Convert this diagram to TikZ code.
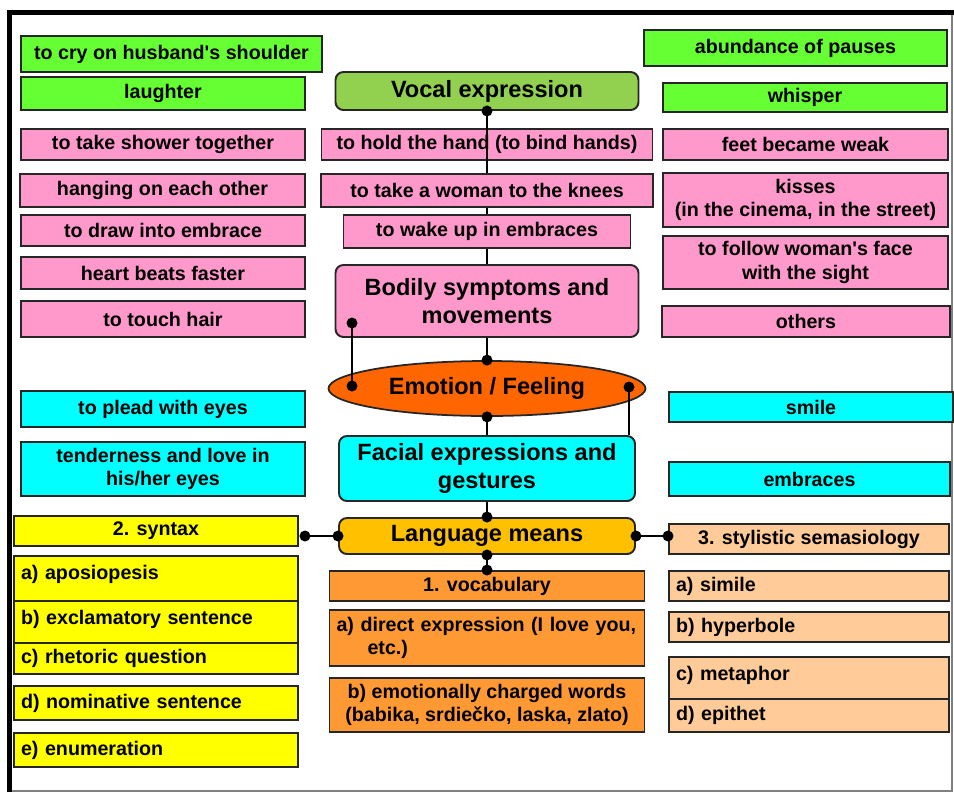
\documentclass[tikz,border=0pt]{standalone}
\usepackage{fontspec}
\setmainfont{Liberation Sans}
\usetikzlibrary{shapes.geometric}

\definecolor{limegr}{RGB}{102,255,51}
\definecolor{olivegr}{RGB}{146,208,80}
\definecolor{rosepk}{RGB}{255,153,204}
\definecolor{emoorange}{RGB}{255,102,0}
\definecolor{aqua}{RGB}{0,255,255}
\definecolor{lemon}{RGB}{255,255,0}
\definecolor{goldbox}{RGB}{255,192,0}
\definecolor{tangerine}{RGB}{255,153,51}
\definecolor{peach}{RGB}{255,204,153}

\newcommand{\itemfont}{\fontsize{11.2}{13.2}\selectfont\bfseries}
\newcommand{\headfont}{\fontsize{13.4}{15.5}\selectfont\bfseries}

\begin{document}
\begin{tikzpicture}[
  box/.style={draw=black!85,line width=1.1pt,inner sep=0pt,font=\itemfont,align=center},
  head/.style={box,rounded corners=4.5pt,font=\headfont},
  greenbox/.style={box,fill=limegr},
  pinkbox/.style={box,fill=rosepk},
  cyanbox/.style={box,fill=aqua},
  orangebox/.style={box,fill=tangerine,minimum width=6.30cm},
  yellowitem/.style={box,fill=lemon,minimum width=5.68cm,text width=5.40cm,align=left},
  peachitem/.style={box,fill=peach,minimum width=5.60cm,text width=5.32cm,align=left},
  conn/.style={line width=1pt}]
\useasboundingbox (0,0) rectangle (19.08,-15.84);
\draw[gray,line width=0.6pt] (0.19,-15.82) -- (19.04,-15.82) -- (19.04,-0.25);
\draw[line width=3.4pt] (0.19,-15.84) -- (0.19,-0.25) -- (19.08,-0.25);

\node[greenbox,minimum width=6.02cm,minimum height=0.72cm] (cry) at (3.43,-1.08) {to cry on husband\textquotesingle s shoulder};
\node[greenbox,minimum width=5.68cm,minimum height=0.66cm] (laughter) at (3.26,-1.87) {laughter};
\node[head,fill=olivegr,minimum width=6.06cm,minimum height=0.76cm] (vocal) at (9.74,-1.82) {Vocal expression};
\node[greenbox,minimum width=6.06cm,minimum height=0.72cm] (pauses) at (15.91,-0.96) {abundance of pauses};
\node[greenbox,minimum width=5.68cm,minimum height=0.58cm] (whisper) at (16.10,-1.95) {whisper};

\node[pinkbox,minimum width=5.68cm,minimum height=0.62cm] (shower) at (3.26,-2.89) {to take shower together};
\node[pinkbox,minimum width=5.70cm,minimum height=0.66cm] (hanging) at (3.25,-3.81) {hanging on each other};
\node[pinkbox,minimum width=5.68cm,minimum height=0.62cm] (drawin) at (3.26,-4.61) {to draw into embrace};
\node[pinkbox,minimum width=5.68cm,minimum height=0.64cm] (heart) at (3.26,-5.46) {heart beats faster};
\node[pinkbox,minimum width=5.68cm,minimum height=0.72cm] (hair) at (3.26,-6.38) {to touch hair};
\node[pinkbox,minimum width=6.62cm,minimum height=0.62cm] (hold) at (9.74,-2.89) {to hold the hand (to bind hands)};
\node[pinkbox,minimum width=6.64cm,minimum height=0.66cm] (woman) at (9.74,-3.81) {to take a woman to the knees};
\node[pinkbox,minimum width=5.74cm,minimum height=0.66cm] (wake) at (9.74,-4.63) {to wake up in embraces};
\node[head,fill=rosepk,minimum width=6.06cm,minimum height=1.44cm] (bodily) at (9.74,-6.02) {Bodily symptoms and\\movements};
\node[pinkbox,minimum width=5.70cm,minimum height=0.62cm] (feet) at (16.11,-2.89) {feet became weak};
\node[pinkbox,minimum width=5.70cm,minimum height=1.08cm] (kisses) at (16.11,-4.00) {kisses\\(in the cinema, in the street)};
\node[pinkbox,minimum width=5.70cm,minimum height=1.06cm] (follow) at (16.11,-5.25) {to follow woman\textquotesingle s face\\with the sight};
\node[pinkbox,minimum width=5.76cm,minimum height=0.62cm] (others) at (16.12,-6.43) {others};

\node[ellipse,draw=black!85,line width=1pt,fill=emoorange,inner sep=0pt,font=\headfont,minimum width=6.34cm,minimum height=1.10cm] (emotion) at (9.74,-7.77) {Emotion / Feeling};

\node[cyanbox,minimum width=5.68cm,minimum height=0.72cm] (plead) at (3.26,-8.18) {to plead with eyes};
\node[cyanbox,minimum width=5.68cm,minimum height=1.08cm] (tender) at (3.26,-9.38) {tenderness and love in\\his/her eyes};
\node[head,fill=aqua,minimum width=5.92cm,minimum height=1.30cm] (facial) at (9.74,-9.37) {Facial expressions and\\gestures};
\node[cyanbox,minimum width=5.68cm,minimum height=0.60cm] (smile) at (16.22,-8.14) {smile};
\node[cyanbox,minimum width=5.62cm,minimum height=0.68cm] (embraces) at (16.19,-9.58) {embraces};

\node[head,fill=goldbox,minimum width=5.92cm,minimum height=0.72cm] (language) at (9.74,-10.72) {Language means};
\node[box,fill=lemon,minimum width=5.68cm,minimum height=0.60cm] (syntax) at (3.12,-10.62) {2. syntax};
\node[yellowitem,minimum height=0.90cm,text height=0.46cm,text depth=0.44cm] (apos) at (3.12,-11.57) {a) aposiopesis};
\node[yellowitem,minimum height=0.84cm,text height=0.46cm,text depth=0.38cm] (excl) at (3.12,-12.44) {b) exclamatory sentence};
\node[yellowitem,minimum height=0.62cm] (rhet) at (3.12,-13.17) {c) rhetoric question};
\node[yellowitem,minimum height=0.68cm] (nomin) at (3.12,-14.06) {d) nominative sentence};
\node[yellowitem,minimum height=0.68cm] (enum) at (3.12,-15.00) {e) enumeration};

\node[orangebox,minimum height=0.60cm] (vocab) at (9.74,-11.72) {1. vocabulary};
\node[orangebox,minimum height=1.12cm,text width=6.02cm,align=left] (direct) at (9.74,-12.76) {a) direct expression (I love you,\\\hspace*{0.62cm}etc.)};
\node[orangebox,minimum height=1.08cm] (charged) at (9.74,-14.10) {b) emotionally charged words\\(babika, srdiečko, laska, zlato)};

\node[box,fill=peach,minimum width=5.60cm,minimum height=0.60cm] (stylistic) at (16.18,-10.78) {3. stylistic semasiology};
\node[peachitem,minimum height=0.60cm] (simile) at (16.18,-11.72) {a) simile};
\node[peachitem,minimum height=0.60cm] (hyper) at (16.18,-12.54) {b) hyperbole};
\node[peachitem,minimum height=0.84cm,text height=0.46cm,text depth=0.38cm] (metaphor) at (16.18,-13.56) {c) metaphor};
\node[peachitem,minimum height=0.66cm] (epithet) at (16.18,-14.31) {d) epithet};

\coordinate (bodydot) at (7.04,-6.46);
\coordinate (emoleft) at (7.04,-7.72);
\coordinate (emoright) at (12.58,-7.74);
\coordinate (synjoin) at ([xshift=0.12cm]syntax.east |- language.west);
\coordinate (stylejoin) at (language.east -| stylistic.west);

\draw[conn] (vocal.south) -- (hold.south);
\draw[conn] (hold.south) -- (woman.north);
\draw[conn] (woman.south) -- (wake.north);
\draw[conn] (wake.south) -- (bodily.north);
\draw[conn] (bodily.south) -- (emotion.north);
\draw[conn] (emotion.south) -- (facial.north);
\draw[conn] (facial.south) -- (language.north);
\draw[conn] (language.south) -- (vocab.north);
\draw[conn] (language.west) -- (synjoin);
\draw[conn] (language.east) -- (stylejoin);
\draw[conn] (bodydot) -- (emoleft);
\draw[conn] (emoright) -- (emoright |- facial.north);

\foreach \p in {vocal.south,emotion.north,emotion.south,language.north,language.south,vocab.north,language.west,synjoin,language.east,stylejoin,bodydot,emoleft,emoright}
  \fill (\p) circle (0.11);
\end{tikzpicture}
\end{document}
